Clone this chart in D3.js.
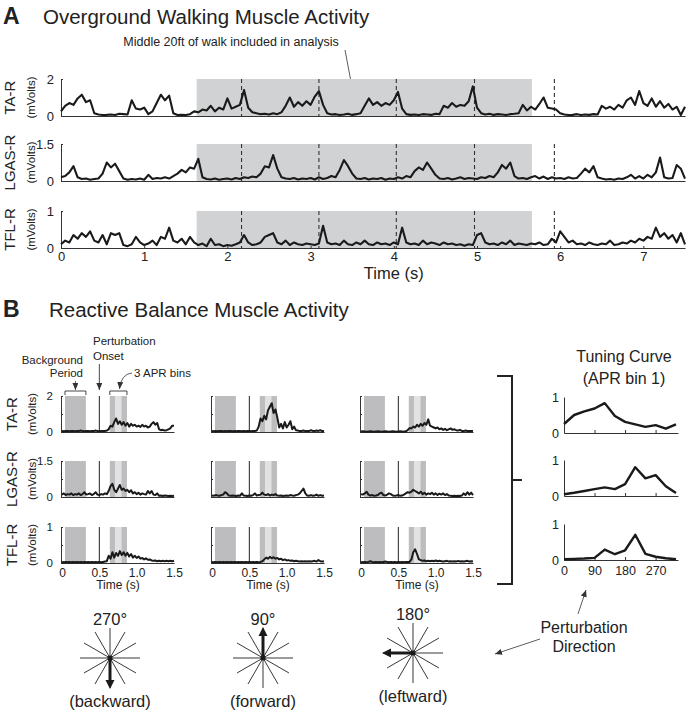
<!DOCTYPE html>
<html>
<head>
<meta charset="utf-8">
<script src="https://cdn.jsdelivr.net/npm/d3@7"></script>
<style>
  body { margin: 0; background: #fff; }
  svg { display: block; font-family: "Liberation Sans", Arial, sans-serif; }
</style>
</head>
<body>
<svg id="fig" width="688" height="715"></svg>
<script>
const muscles = ["TA-R", "LGAS-R", "TFL-R"];
const muscleMax = [2, 1.5, 1];

// Panel A: overground walking, one sample every 0.05 s
const walkStep = 0.05;
const walkTicks = [0, 1, 2, 3, 4, 5, 6, 7];
const analysisWindow = [1.63, 5.66];
const heelStrikes = [2.17, 3.1, 4.03, 4.97, 5.93];
const walkTA = [
  0.25,0.55,0.70,0.60,0.95,1.15,0.75,0.85,0.15,0.08,
  0.05,0.06,0.08,0.05,0.12,0.10,0.08,0.85,0.40,0.35,
  0.45,0.10,0.25,0.70,1.15,0.85,1.10,0.15,0.05,0.06,
  0.05,0.10,0.25,0.20,0.35,0.30,0.55,0.25,0.45,0.35,
  0.95,0.40,0.50,0.60,1.40,0.45,0.20,0.15,0.10,0.12,
  0.08,0.15,0.10,0.20,0.55,1.00,0.50,0.75,0.55,0.80,
  0.60,1.05,1.35,0.60,0.15,0.08,0.10,0.05,0.08,0.12,
  0.06,0.10,0.15,0.55,0.95,0.60,0.75,0.55,0.70,0.60,
  0.85,1.30,0.40,0.10,0.06,0.08,0.05,0.10,0.08,0.06,
  0.12,0.10,0.55,0.45,0.70,0.50,0.60,0.55,0.80,1.60,
  0.45,0.15,0.08,0.12,0.06,0.10,0.08,0.05,0.10,0.12,
  0.15,0.60,0.30,0.50,0.35,0.65,1.00,0.45,0.40,0.35,
  0.15,0.08,0.05,0.06,0.10,0.05,0.08,0.06,0.10,0.08,
  0.55,0.40,0.50,0.35,0.60,0.45,0.85,1.00,0.60,1.35,
  0.70,0.55,0.95,0.50,0.80,0.45,0.65,0.35,0.50,0.05,
  0.50];
const walkLGAS = [
  0.15,0.20,0.35,0.60,0.15,0.08,0.10,0.05,0.08,0.10,
  0.30,0.75,0.55,0.70,0.40,0.10,0.05,0.08,0.06,0.10,
  0.05,0.25,0.08,0.12,0.10,0.15,0.10,0.20,0.30,0.45,
  0.35,0.55,0.50,0.90,0.15,0.08,0.06,0.10,0.05,0.08,
  0.10,0.06,0.12,0.08,0.15,0.12,0.18,0.15,0.30,0.60,
  0.55,1.05,0.50,0.15,0.10,0.08,0.12,0.06,0.10,0.08,
  0.12,0.06,0.15,0.08,0.12,0.20,0.15,0.45,0.85,0.60,
  0.30,0.10,0.08,0.12,0.06,0.10,0.08,0.12,0.05,0.10,
  0.08,0.15,0.10,0.20,0.15,0.40,0.55,0.45,0.75,0.50,
  0.25,0.10,0.08,0.12,0.06,0.10,0.15,0.08,0.12,0.10,
  0.08,0.15,0.12,0.20,0.15,0.35,0.65,0.50,0.75,0.20,
  0.10,0.12,0.08,0.15,0.20,0.10,0.18,0.08,0.15,0.10,
  0.12,0.08,0.15,0.10,0.12,0.30,0.50,0.35,0.60,0.15,
  0.10,0.06,0.08,0.05,0.10,0.08,0.15,0.25,0.10,0.20,
  0.10,0.25,0.15,0.35,0.95,0.15,0.10,0.12,0.65,0.50,
  0.10];
const walkTFL = [
  0.10,0.20,0.15,0.35,0.25,0.40,0.30,0.45,0.20,0.15,
  0.35,0.10,0.40,0.35,0.40,0.08,0.05,0.10,0.30,0.15,
  0.08,0.12,0.20,0.08,0.30,0.25,0.55,0.20,0.15,0.25,
  0.10,0.30,0.15,0.08,0.12,0.05,0.25,0.08,0.10,0.05,
  0.08,0.06,0.10,0.15,0.35,0.15,0.08,0.10,0.15,0.30,
  0.35,0.40,0.15,0.10,0.20,0.08,0.15,0.10,0.08,0.12,
  0.10,0.08,0.12,0.60,0.15,0.10,0.12,0.08,0.20,0.10,
  0.08,0.15,0.10,0.20,0.10,0.08,0.15,0.10,0.12,0.08,
  0.15,0.10,0.55,0.15,0.10,0.12,0.08,0.20,0.10,0.15,
  0.12,0.08,0.15,0.10,0.12,0.08,0.10,0.06,0.10,0.08,
  0.35,0.40,0.15,0.10,0.12,0.08,0.15,0.10,0.20,0.08,
  0.12,0.10,0.08,0.12,0.10,0.15,0.08,0.10,0.25,0.15,
  0.45,0.30,0.15,0.20,0.10,0.12,0.08,0.15,0.10,0.08,
  0.12,0.10,0.20,0.08,0.10,0.15,0.12,0.20,0.15,0.25,
  0.20,0.30,0.25,0.55,0.30,0.40,0.25,0.35,0.15,0.40,
  0.10];

// Panel B: reactive balance, one sample every 0.025 s
const balanceStep = 0.025;
const balanceTicks = [0, 0.5, 1.0, 1.5];
const backgroundPeriod = [0.04, 0.32];
const perturbOnset = 0.5;
const aprBins = [0.64, 0.715, 0.795, 0.87];

const backTA = [
  0.05,0.04,0.06,0.05,0.04,0.06,0.05,0.04,0.06,0.05,
  0.08,0.05,0.04,0.06,0.05,0.04,0.06,0.05,0.08,0.05,
  0.04,0.06,0.05,0.06,0.08,0.15,0.35,0.30,0.55,0.75,
  0.45,0.60,0.40,0.55,0.35,0.50,0.30,0.45,0.35,0.40,
  0.30,0.35,0.28,0.40,0.30,0.35,0.25,0.30,0.45,0.55,
  0.40,0.50,0.15,0.10,0.12,0.08,0.10,0.15,0.20,0.35,
  0.35];
const backLGAS = [
  0.10,0.15,0.08,0.12,0.10,0.15,0.08,0.12,0.10,0.15,
  0.08,0.12,0.20,0.10,0.12,0.15,0.08,0.12,0.20,0.10,
  0.08,0.12,0.10,0.15,0.12,0.25,0.45,0.55,0.30,0.20,
  0.35,0.50,0.30,0.35,0.25,0.30,0.20,0.28,0.15,0.20,
  0.12,0.18,0.10,0.15,0.12,0.10,0.25,0.15,0.25,0.10,
  0.08,0.15,0.05,0.06,0.04,0.06,0.05,0.04,0.05,0.04,
  0.05];
const backTFL = [
  0.03,0.02,0.03,0.02,0.03,0.02,0.03,0.02,0.03,0.02,
  0.03,0.02,0.03,0.02,0.03,0.02,0.03,0.02,0.03,0.02,
  0.03,0.02,0.03,0.04,0.05,0.20,0.12,0.30,0.15,0.28,
  0.20,0.33,0.22,0.30,0.20,0.28,0.18,0.25,0.15,0.20,
  0.14,0.18,0.12,0.14,0.10,0.13,0.09,0.10,0.07,0.06,
  0.07,0.05,0.06,0.05,0.06,0.05,0.06,0.05,0.06,0.05,
  0.06];
const fwdTA = [
  0.05,0.04,0.05,0.04,0.06,0.05,0.04,0.05,0.04,0.06,
  0.05,0.04,0.05,0.04,0.06,0.05,0.04,0.05,0.04,0.06,
  0.05,0.04,0.05,0.06,0.08,0.30,0.75,0.60,0.90,0.70,
  1.20,1.40,1.60,1.05,1.25,0.80,0.25,0.45,0.20,0.55,
  0.25,0.40,0.60,0.15,0.30,0.10,0.08,0.05,0.06,0.08,
  0.05,0.06,0.05,0.10,0.06,0.05,0.08,0.06,0.10,0.05,
  0.06];
const fwdLGAS = [
  0.06,0.05,0.08,0.06,0.05,0.08,0.10,0.20,0.15,0.06,
  0.05,0.06,0.05,0.04,0.06,0.05,0.15,0.06,0.05,0.04,
  0.06,0.05,0.08,0.15,0.06,0.08,0.10,0.18,0.10,0.08,
  0.12,0.06,0.10,0.08,0.12,0.06,0.05,0.06,0.04,0.05,
  0.06,0.05,0.08,0.06,0.05,0.08,0.10,0.15,0.25,0.35,
  0.15,0.06,0.05,0.08,0.05,0.06,0.10,0.05,0.08,0.05,
  0.06];
const fwdTFL = [
  0.03,0.02,0.03,0.02,0.03,0.02,0.03,0.02,0.03,0.02,
  0.03,0.02,0.03,0.02,0.03,0.02,0.03,0.02,0.03,0.02,
  0.03,0.02,0.03,0.02,0.03,0.02,0.03,0.05,0.10,0.15,
  0.12,0.17,0.13,0.16,0.12,0.14,0.10,0.12,0.08,0.10,
  0.07,0.08,0.06,0.07,0.05,0.06,0.05,0.04,0.05,0.04,
  0.05,0.04,0.05,0.04,0.05,0.06,0.04,0.08,0.05,0.04,
  0.05];
const leftTA = [
  0.03,0.04,0.03,0.02,0.03,0.04,0.03,0.02,0.03,0.04,
  0.03,0.02,0.03,0.04,0.03,0.02,0.03,0.04,0.03,0.02,
  0.03,0.04,0.03,0.02,0.04,0.10,0.22,0.20,0.30,0.25,
  0.40,0.30,0.45,0.35,0.50,0.40,0.70,0.35,0.30,0.25,
  0.20,0.25,0.15,0.20,0.12,0.18,0.10,0.15,0.20,0.12,
  0.15,0.10,0.08,0.12,0.06,0.05,0.08,0.06,0.05,0.06,
  0.05];
const leftLGAS = [
  0.12,0.10,0.15,0.22,0.10,0.06,0.08,0.05,0.06,0.08,
  0.15,0.18,0.08,0.06,0.10,0.15,0.12,0.06,0.05,0.06,
  0.08,0.05,0.06,0.10,0.15,0.20,0.18,0.22,0.30,0.25,
  0.20,0.15,0.22,0.12,0.18,0.10,0.15,0.12,0.18,0.10,
  0.15,0.08,0.14,0.10,0.15,0.08,0.12,0.06,0.05,0.04,
  0.05,0.04,0.05,0.04,0.06,0.15,0.08,0.20,0.10,0.18,
  0.08];
const leftTFL = [
  0.03,0.02,0.03,0.02,0.03,0.05,0.03,0.02,0.03,0.02,
  0.03,0.02,0.03,0.04,0.03,0.02,0.03,0.02,0.03,0.02,
  0.03,0.02,0.03,0.02,0.03,0.03,0.03,0.10,0.30,0.38,
  0.25,0.10,0.08,0.06,0.07,0.05,0.06,0.05,0.06,0.05,
  0.07,0.05,0.06,0.05,0.04,0.05,0.06,0.04,0.05,0.04,
  0.05,0.04,0.06,0.04,0.05,0.04,0.05,0.06,0.04,0.05,
  0.04];

// tuning curves, APR bin 1
const tuningAngles = [0, 30, 60, 90, 120, 150, 180, 210, 240, 270, 300, 330];
const tuningTicks = [0, 90, 180, 270];
const tuningTA   = [0.25, 0.50, 0.60, 0.68, 0.83, 0.47, 0.31, 0.24, 0.17, 0.22, 0.12, 0.24];
const tuningLGAS = [0.05, 0.09, 0.14, 0.19, 0.24, 0.19, 0.33, 0.80, 0.49, 0.58, 0.27, 0.08];
const tuningTFL  = [0.02, 0.03, 0.04, 0.06, 0.29, 0.16, 0.27, 0.70, 0.17, 0.09, 0.05, 0.02];

const directions = [270, 90, 180];
const directionNames = ["(backward)", "(forward)", "(leftward)"];

// ---------------------------------------------------------------
const FONT = '"Liberation Sans", Arial, sans-serif';
const ink = "#1a1a1a";
const svg = d3.select("#fig");
svg.append("rect").attr("width", 688).attr("height", 715).attr("fill", "#fff");

function label(x, y, str, size, anchor = "start", weight = "normal") {
  return svg.append("text")
    .attr("x", x).attr("y", y)
    .attr("font-size", size)
    .attr("font-weight", weight)
    .attr("text-anchor", anchor)
    .attr("fill", "#222")
    .text(str);
}

function vlabel(x, yc, str, size) {
  svg.append("text")
    .attr("transform", `translate(${x},${yc}) rotate(-90)`)
    .attr("text-anchor", "middle")
    .attr("dominant-baseline", "central")
    .attr("font-size", size)
    .attr("fill", "#222")
    .text(str);
}

function styleAxis(g, size) {
  g.attr("font-family", FONT).attr("font-size", size);
  g.select(".domain").attr("stroke", "#333").attr("stroke-width", 1);
  g.selectAll(".tick line").attr("stroke", "#333");
  g.selectAll(".tick text").attr("fill", "#222");
}

const defs = svg.append("defs");
defs.append("marker")
  .attr("id", "thin-arrow")
  .attr("viewBox", "0 -3 7 6")
  .attr("refX", 7).attr("refY", 0)
  .attr("markerWidth", 7).attr("markerHeight", 6)
  .attr("markerUnits", "userSpaceOnUse")
  .attr("orient", "auto")
  .append("path").attr("d", "M0,-3L7,0L0,3Z").attr("fill", "#333");

// ---------------- Panel A ----------------
label(3, 24, "A", 23, "start", "bold");
label(43, 24, "Overground Walking Muscle Activity", 20.5);
label(231, 46, "Middle 20ft of walk included in analysis", 12.5, "middle");
svg.append("line")
  .attr("x1", 345).attr("y1", 50).attr("x2", 352).attr("y2", 87)
  .attr("stroke", "#333").attr("stroke-width", 0.8)
  .attr("marker-end", "url(#thin-arrow)");

const walkX = d3.scaleLinear().domain([0, 7.5]).range([61, 685]);
const walkTops = [79, 144, 211];
const walkH = 37;
const walkData = [walkTA, walkLGAS, walkTFL];

walkData.forEach((vals, i) => {
  const y = d3.scaleLinear().domain([0, muscleMax[i]]).range([walkTops[i] + walkH, walkTops[i]]);
  const g = svg.append("g");

  g.append("rect")
    .attr("x", walkX(analysisWindow[0]))
    .attr("y", y(muscleMax[i]))
    .attr("width", walkX(analysisWindow[1]) - walkX(analysisWindow[0]))
    .attr("height", y(0) - y(muscleMax[i]))
    .attr("fill", "#d1d2d4");

  g.selectAll("line.hs")
    .data(heelStrikes)
    .enter().append("line")
    .attr("class", "hs")
    .attr("x1", d => walkX(d)).attr("x2", d => walkX(d))
    .attr("y1", y(muscleMax[i])).attr("y2", y(0))
    .attr("stroke", "#333")
    .attr("stroke-width", 1.1)
    .attr("stroke-dasharray", "4,3");

  const xAxis = g.append("g")
    .attr("transform", `translate(0,${y(0)})`)
    .call(d3.axisBottom(walkX)
      .tickValues(i === 2 ? walkTicks : [])
      .tickSizeInner(i === 2 ? -2 : 0)
      .tickSizeOuter(0)
      .tickPadding(4)
      .tickFormat(d3.format("d")));
  styleAxis(xAxis, 13);

  const yAxis = g.append("g")
    .attr("transform", `translate(${walkX(0)},0)`)
    .call(d3.axisLeft(y)
      .tickValues([0, muscleMax[i]])
      .tickSizeInner(-2)
      .tickSizeOuter(0)
      .tickPadding(7)
      .tickFormat(d3.format("~g")));
  styleAxis(yAxis, 13);

  g.append("path")
    .datum(vals)
    .attr("fill", "none")
    .attr("stroke", ink)
    .attr("stroke-width", 2.1)
    .attr("stroke-linejoin", "round")
    .attr("d", d3.line().x((d, k) => walkX(k * walkStep)).y(d => y(d)));

  vlabel(9, walkTops[i] + walkH / 2, muscles[i], 15);
  vlabel(31, walkTops[i] + walkH / 2, "(mVolts)", 11.5);
});
label(walkX(4), 279, "Time (s)", 16.5, "middle");

// ---------------- Panel B ----------------
label(3, 317, "B", 23, "start", "bold");
label(49, 317, "Reactive Balance Muscle Activity", 20.5);

label(83, 364, "Background", 11.5, "end");
label(83, 377, "Period", 11.5, "end");
label(93, 345, "Perturbation", 11.5);
label(93, 360, "Onset", 11.5);
label(134, 377, "3 APR bins", 11.5);

const balX = [62, 212, 361].map(x0 => d3.scaleLinear().domain([0, 1.5]).range([x0, x0 + 112]));
const balTops = [396, 461, 527];
const balH = 36;
const balance = [
  [backTA, backLGAS, backTFL],
  [fwdTA, fwdLGAS, fwdTFL],
  [leftTA, leftLGAS, leftTFL]
];
const shadeBands = [
  { from: backgroundPeriod[0], to: backgroundPeriod[1], fill: "#bdbdbf" },
  { from: aprBins[0], to: aprBins[1], fill: "#bdbdbf" },
  { from: aprBins[1], to: aprBins[2], fill: "#e2e2e3" },
  { from: aprBins[2], to: aprBins[3], fill: "#bdbdbf" }
];

balance.forEach((col, c) => {
  const x = balX[c];
  col.forEach((vals, r) => {
    const y = d3.scaleLinear().domain([0, muscleMax[r]]).range([balTops[r] + balH, balTops[r]]);
    const g = svg.append("g");

    g.selectAll("rect")
      .data(shadeBands)
      .enter().append("rect")
      .attr("x", d => x(d.from))
      .attr("width", d => x(d.to) - x(d.from))
      .attr("y", y(muscleMax[r]))
      .attr("height", y(0) - y(muscleMax[r]))
      .attr("fill", d => d.fill);

    g.append("line")
      .attr("x1", x(perturbOnset)).attr("x2", x(perturbOnset))
      .attr("y1", y(muscleMax[r])).attr("y2", y(0))
      .attr("stroke", "#222").attr("stroke-width", 1);

    const xAxis = g.append("g")
      .attr("transform", `translate(0,${y(0)})`)
      .call(d3.axisBottom(x)
        .tickValues(r === 2 ? balanceTicks : [])
        .tickSizeInner(0)
        .tickSizeOuter(0)
        .tickPadding(5)
        .tickFormat(d => d === 0 ? "0" : d3.format(".1f")(d)));
    styleAxis(xAxis, 12);

    const yAxis = g.append("g")
      .attr("transform", `translate(${x(0) - 1},0)`)
      .call(d3.axisLeft(y)
        .tickValues([0, muscleMax[r] / 2, muscleMax[r]])
        .tickSizeInner(-2)
        .tickSizeOuter(0)
        .tickPadding(8)
        .tickFormat(d => c === 0 && d !== muscleMax[r] / 2 ? d3.format("~g")(d) : ""));
    styleAxis(yAxis, 11.5);

    g.append("path")
      .datum(vals)
      .attr("fill", "none")
      .attr("stroke", ink)
      .attr("stroke-width", 2)
      .attr("stroke-linejoin", "round")
      .attr("d", d3.line().x((d, k) => x(k * balanceStep)).y(d => y(d)));
  });
  label(x(0.75), 589, "Time (s)", 12, "middle");
});

muscles.forEach((m, r) => {
  vlabel(11, balTops[r] + balH / 2, m, 15);
  vlabel(32, balTops[r] + balH / 2, "(mVolts)", 11.5);
});

// callouts above the first TA-R panel
const x0 = balX[0];
const bracket = (a, b) => `M${x0(a)},395V391H${x0(b)}V395`;
svg.append("path").attr("d", bracket(backgroundPeriod[0], backgroundPeriod[1]))
  .attr("fill", "none").attr("stroke", "#333").attr("stroke-width", 0.9);
svg.append("path").attr("d", bracket(aprBins[0], aprBins[3]))
  .attr("fill", "none").attr("stroke", "#333").attr("stroke-width", 0.9);
svg.append("line")
  .attr("x1", x0(0.18)).attr("y1", 381).attr("x2", x0(0.18)).attr("y2", 390)
  .attr("stroke", "#333").attr("stroke-width", 0.8).attr("marker-end", "url(#thin-arrow)");
svg.append("line")
  .attr("x1", x0(perturbOnset)).attr("y1", 364).attr("x2", x0(perturbOnset)).attr("y2", 390)
  .attr("stroke", "#333").attr("stroke-width", 0.9).attr("marker-end", "url(#thin-arrow)");
svg.append("path")
  .attr("d", `M132,373Q121,374 ${x0(0.77)},389`)
  .attr("fill", "none").attr("stroke", "#333").attr("stroke-width", 0.8)
  .attr("marker-end", "url(#thin-arrow)");

// big bracket linking trials to tuning curves
svg.append("path")
  .attr("d", "M497,376H512V584H497M512,480H522")
  .attr("fill", "none").attr("stroke", "#222").attr("stroke-width", 2);

// ---------------- Tuning curves ----------------
label(624, 362, "Tuning Curve", 16, "middle");
label(624, 384, "(APR bin 1)", 16, "middle");

const tuneX = d3.scaleLinear().domain([0, 330]).range([564, 676]);
const tuneTops = [397, 460, 524];
const tuneH = 36;
const tuningData = [tuningTA, tuningLGAS, tuningTFL];

tuningData.forEach((vals, r) => {
  const y = d3.scaleLinear().domain([0, 1]).range([tuneTops[r] + tuneH, tuneTops[r]]);
  const g = svg.append("g");

  const xAxis = g.append("g")
    .attr("transform", `translate(0,${y(0)})`)
    .call(d3.axisBottom(tuneX.copy().range([564, 678]).domain([0, 336]))
      .tickValues(tuningTicks)
      .tickSizeInner(-3)
      .tickSizeOuter(0)
      .tickPadding(6)
      .tickFormat(r === 2 ? d3.format("d") : () => ""));
  styleAxis(xAxis, 12.5);

  const yAxis = g.append("g")
    .attr("transform", `translate(${tuneX(0)},0)`)
    .call(d3.axisLeft(y)
      .tickValues([0, 1])
      .tickSizeInner(0)
      .tickSizeOuter(0)
      .tickPadding(5)
      .tickFormat(d3.format("d")));
  styleAxis(yAxis, 12.5);

  g.append("path")
    .datum(vals)
    .attr("fill", "none")
    .attr("stroke", ink)
    .attr("stroke-width", 2.4)
    .attr("stroke-linejoin", "round")
    .attr("d", d3.line().x((d, k) => tuneX(tuningAngles[k])).y(d => y(d)));
});

// ---------------- Perturbation direction stars ----------------
const starCenters = [[110, 658], [263, 658], [413, 653]];
const starR = 30;
const spokes = tuningAngles.filter(a => a < 180);

directions.forEach((deg, i) => {
  const [cx, cy] = starCenters[i];
  const g = svg.append("g").attr("transform", `translate(${cx},${cy})`);

  g.selectAll("line.spoke")
    .data(spokes)
    .enter().append("line")
    .attr("class", "spoke")
    .attr("x1", a => -starR * Math.cos(a * Math.PI / 180))
    .attr("y1", a => starR * Math.sin(a * Math.PI / 180))
    .attr("x2", a => starR * Math.cos(a * Math.PI / 180))
    .attr("y2", a => -starR * Math.sin(a * Math.PI / 180))
    .attr("stroke", "#222")
    .attr("stroke-width", 0.9);

  const rad = deg * Math.PI / 180;
  const ux = Math.cos(rad), uy = -Math.sin(rad);
  const tip = starR + 1, head = 9, half = 4.5;
  g.append("line")
    .attr("x1", 0).attr("y1", 0)
    .attr("x2", ux * (tip - head + 1)).attr("y2", uy * (tip - head + 1))
    .attr("stroke", ink).attr("stroke-width", 3);
  g.append("path")
    .attr("d", `M${ux * tip},${uy * tip}` +
      `L${ux * (tip - head) - uy * half},${uy * (tip - head) + ux * half}` +
      `L${ux * (tip - head) + uy * half},${uy * (tip - head) - ux * half}Z`)
    .attr("fill", ink);
  g.append("circle").attr("r", 2.5).attr("fill", ink);

  label(cx, cy - 33, deg + "°", 16.5, "middle");
  label(cx, cy + 49, directionNames[i], 16.5, "middle");
});

label(584, 633, "Perturbation", 16, "middle");
label(584, 652, "Direction", 16, "middle");
svg.append("line")
  .attr("x1", 578).attr("y1", 614).attr("x2", 586).attr("y2", 590)
  .attr("stroke", "#333").attr("stroke-width", 0.8).attr("marker-end", "url(#thin-arrow)");
svg.append("line")
  .attr("x1", 540).attr("y1", 639).attr("x2", 495).attr("y2", 654)
  .attr("stroke", "#333").attr("stroke-width", 0.8).attr("marker-end", "url(#thin-arrow)");
</script>
</body>
</html>
